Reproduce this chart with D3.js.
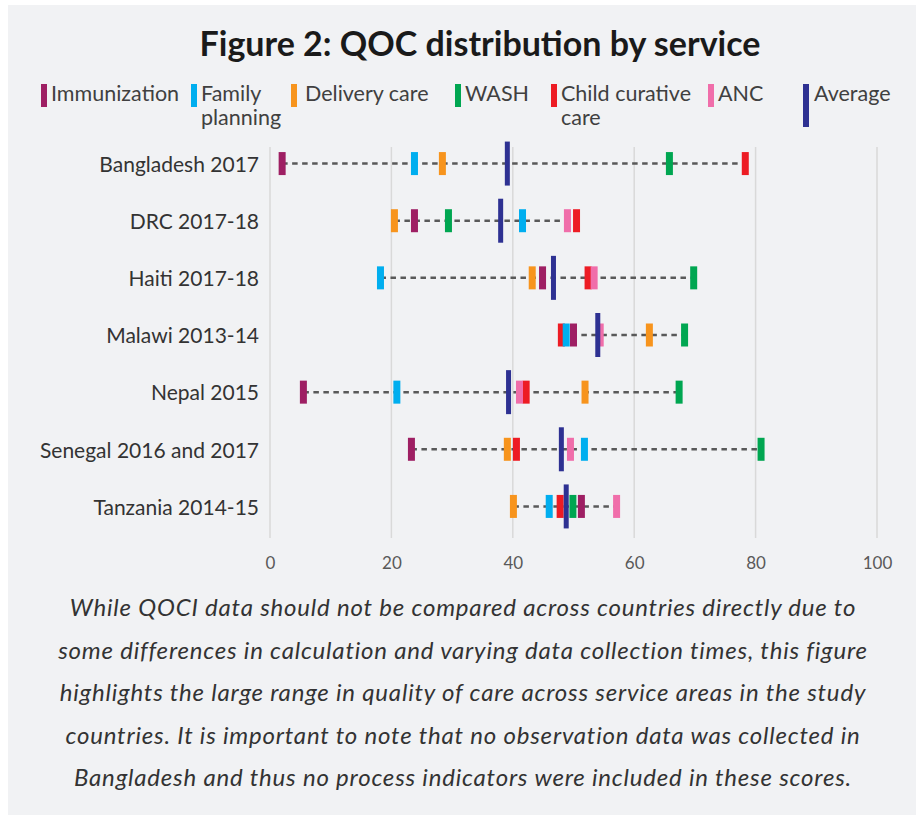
<!DOCTYPE html>
<html>
<head>
<meta charset="utf-8">
<script src="https://cdn.jsdelivr.net/npm/d3@7"></script>
<style>
  html, body { margin: 0; padding: 0; background: #ffffff; }
  svg { display: block; font-family: Lato, "Open Sans", sans-serif; }
</style>
</head>
<body>
<div id="chart"></div>
<script>
// data
const countries = ["Bangladesh 2017", "DRC 2017-18", "Haiti 2017-18", "Malawi 2013-14",
    "Nepal 2015", "Senegal 2016 and 2017", "Tanzania 2014-15"];
const services = ["Immunization", "Family planning", "Delivery care", "WASH", "Child curative care", "ANC"];
const immunization   = [2.0, 23.8, 44.9, 50.0, 5.5, 23.3, 51.3];
const familyPlanning = [23.8, 41.6, 18.2, 48.8, 20.9, 51.8, 46.0];
const deliveryCare   = [28.4, 20.5, 43.2, 62.5, 51.9, 39.1, 40.1];
const wash           = [65.8, 29.4, 69.8, 68.3, 67.4, 80.9, 49.9];
const childCurative  = [78.3, 50.5, 52.4, 48.0, 42.2, 40.6, 47.8];
const anc            = [null, 49.0, 53.4, 54.4, 41.1, 49.5, 57.1];
const average        = [39.1, 38.0, 46.7, 54.0, 39.3, 48.0, 48.8];
const xTicks = [0, 20, 40, 60, 80, 100];

const legendLabels = [["Immunization"], ["Family", "planning"], ["Delivery care"], ["WASH"],
    ["Child curative", "care"], ["ANC"], ["Average"]];
const caption = [
    "While QOCI data should not be compared across countries directly due to",
    "some differences in calculation and varying data collection times, this figure",
    "highlights the large range in quality of care across service areas in the study",
    "countries. It is important to note that no observation data was collected in",
    "Bangladesh and thus no process indicators were included in these scores."
];

const colors = {
    "Immunization": "#9e1f63",
    "Family planning": "#00aeef",
    "Delivery care": "#f7941d",
    "WASH": "#00a651",
    "Child curative care": "#ed1c24",
    "ANC": "#f06eaa",
    "Average": "#2e3192"
};
const seriesValues = {
    "Immunization": immunization,
    "Family planning": familyPlanning,
    "Delivery care": deliveryCare,
    "WASH": wash,
    "Child curative care": childCurative,
    "ANC": anc
};
// order in which the marks are stacked
const drawOrder = ["Child curative care", "Immunization", "Family planning", "Delivery care", "WASH", "ANC"];

const W = 919, H = 815;
const svg = d3.select("#chart").append("svg")
    .attr("width", W)
    .attr("height", H);

// panel
svg.append("rect")
    .attr("x", 8).attr("y", 5)
    .attr("width", 908).attr("height", H - 5)
    .attr("fill", "#f1f2f4");

// title
svg.append("text")
    .attr("x", 480).attr("y", 56)
    .attr("text-anchor", "middle")
    .attr("font-weight", "bold")
    .attr("font-size", 34)
    .attr("fill", "#1a1a1a")
    .text("Figure 2: QOC distribution by service");

// legend
const legendX = [41, 191, 291, 455, 551, 708, 803];
const legendKeys = services.concat(["Average"]);
const legendG = svg.append("g").attr("class", "legendG");
legendKeys.forEach((key, i) => {
    const isAvg = key === "Average";
    const tx = legendX[i] + (isAvg ? 11 : (i === 2 ? 14 : 10));
    legendG.append("rect")
        .attr("x", legendX[i]).attr("y", 84)
        .attr("width", 6).attr("height", isAvg ? 43 : 23)
        .attr("fill", colors[key]);
    const t = legendG.append("text")
        .attr("x", tx)
        .attr("y", 101)
        .attr("font-size", 21.5)
        .attr("fill", "#404040");
    legendLabels[i].forEach((line, j) => {
        t.append("tspan")
            .attr("x", tx)
            .attr("dy", j === 0 ? 0 : 24)
            .text(line);
    });
});

// scales
const xScale = d3.scaleLinear().domain([0, 100]).range([270, 877]);
const yScale = d3.scaleBand().domain(countries).range([135, 535]);
const rowY = c => yScale(c) + yScale.bandwidth() / 2;

// gridlines
svg.append("g").attr("class", "gridG")
    .selectAll("line")
    .data(xTicks)
    .join("line")
    .attr("x1", d => xScale(d)).attr("x2", d => xScale(d))
    .attr("y1", 147).attr("y2", 538)
    .attr("stroke", "#d9d9d9")
    .attr("stroke-width", 1.5);

// x axis labels
const xAxisG = svg.append("g")
    .attr("class", "xAxisG")
    .attr("transform", "translate(0,550)")
    .call(d3.axisBottom(xScale).tickValues(xTicks).tickSize(0).tickPadding(0));
xAxisG.select(".domain").remove();
xAxisG.selectAll("text")
    .attr("dy", 19)
    .attr("font-size", 17)
    .attr("font-family", "Lato, sans-serif")
    .attr("fill", "#595959");

// category labels
svg.append("g").attr("class", "yLabelG")
    .selectAll("text")
    .data(countries)
    .join("text")
    .attr("x", 259)
    .attr("y", d => rowY(d) + 1)
    .attr("dy", "0.35em")
    .attr("text-anchor", "end")
    .attr("font-size", 21)
    .attr("fill", "#333333")
    .text(d => d);

// rows: dashed range line, service marks, average
const rows = countries.map((c, i) => {
    const vals = services.map(s => seriesValues[s][i]).filter(v => v != null);
    return {country: c, index: i, min: d3.min(vals), max: d3.max(vals)};
});

svg.append("g").attr("class", "rangeG")
    .selectAll("line")
    .data(rows)
    .join("line")
    .attr("x1", d => xScale(d.min)).attr("x2", d => xScale(d.max))
    .attr("y1", d => rowY(d.country)).attr("y2", d => rowY(d.country))
    .attr("stroke", "#595959")
    .attr("stroke-width", 2.5)
    .attr("stroke-dasharray", "5.5,4.5");

const markW = 7, markH = 23;
drawOrder.forEach(s => {
    const pts = countries.map((c, i) => ({country: c, value: seriesValues[s][i]}))
        .filter(d => d.value != null);
    svg.append("g").attr("class", "markerG")
        .selectAll("rect")
        .data(pts)
        .join("rect")
        .attr("x", d => xScale(d.value) - markW / 2)
        .attr("y", d => rowY(d.country) - markH / 2)
        .attr("width", markW).attr("height", markH)
        .attr("fill", colors[s]);
});

svg.append("g").attr("class", "averageG")
    .selectAll("rect")
    .data(countries.map((c, i) => ({country: c, value: average[i]})))
    .join("rect")
    .attr("x", d => xScale(d.value) - 2.5)
    .attr("y", d => rowY(d.country) - 22)
    .attr("width", 5).attr("height", 44)
    .attr("fill", colors["Average"]);

// caption
svg.append("g").attr("class", "captionG")
    .selectAll("text")
    .data(caption)
    .join("text")
    .attr("x", 463)
    .attr("y", (d, i) => 616 + i * 42.5)
    .attr("text-anchor", "middle")
    .attr("font-style", "italic")
    .attr("font-size", 24)
    .attr("letter-spacing", 0.8)
    .attr("fill", "#333333")
    .text(d => d);
</script>
</body>
</html>
